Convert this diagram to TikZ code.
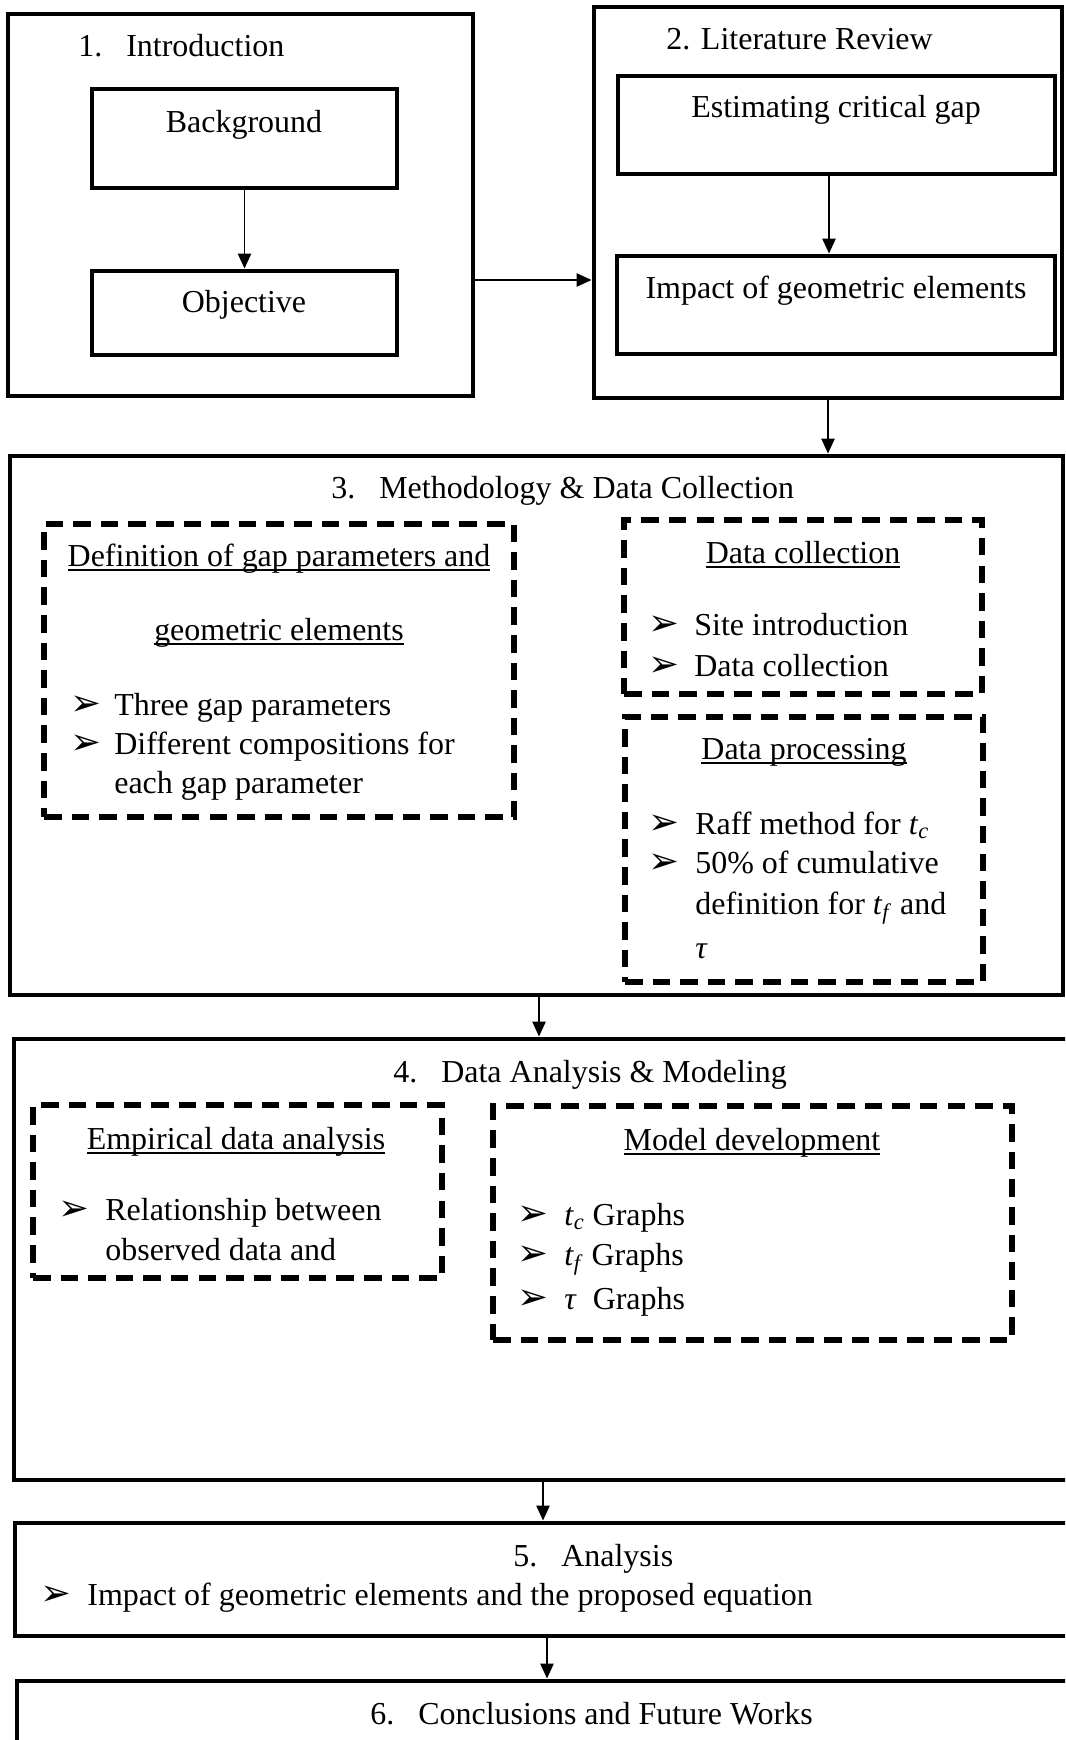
\documentclass[tikz,border=0pt]{standalone}
\usepackage{fontspec}
\setmainfont{Liberation Serif}
\newfontfamily\dingfont{DejaVu Sans}
\usepackage{tikz}
\usetikzlibrary{arrows.meta,fit,positioning}
\newcommand{\tv}[1]{\textit{t}\textsubscript{\textit{#1}}}
\newcommand{\uln}[1]{\sbox0{#1}\rlap{\rule[-2.6pt]{\wd0}{1pt}}\usebox0}
\newcommand{\numgap}{\hspace{0.75em}}
\tikzset{
  bigbox/.style={draw, line width=2.8pt, inner sep=0pt},
  subbox/.style={draw, line width=2.8pt, inner sep=0pt},
  dashbox/.style={draw, line width=3.3pt, dash pattern=on 10pt off 5.7pt, inner sep=0pt},
  txt/.style={inner sep=0pt, font=\fontsize{18.2}{22}\selectfont},
  blt/.style={inner sep=0pt, font=\dingfont\fontsize{21}{22}\selectfont},
  arr/.style={line width=1.1pt, -{Triangle[length=8.5pt,width=7.5pt]}},
}
\begin{document}
\begin{tikzpicture}[x=0.02cm, y=-0.02cm]
\useasboundingbox (0,0) rectangle (1065,1740);
\clip (0,0) rectangle (1065,1740);

% 1. introduction
\node[bigbox, fit={(8,14) (473,396)}] (introBox) {};
\node[txt, anchor=base west] (introT) at (78,57) {1.\numgap Introduction};
\node[subbox, fit={(92,89) (397,188)}] (bgBox) {};
\node[txt, anchor=base] (bgT) at (244,133) {Background};
\node[subbox, fit={(92,271) (397,355)}] (objBox) {};
\node[txt, anchor=base] (objT) at (244,313) {Objective};

% 2. literature review
\node[bigbox, fit={(594,7) (1062,398)}] (litBox) {};
\node[txt, anchor=base west] (litT) at (666,50) {2. Literature Review};
\node[subbox, fit={(618,76) (1055,174)}] (estBox) {};
\node[txt, anchor=base] (estT) at (836,118) {Estimating critical gap};
\node[subbox, fit={(617,256) (1055,354)}] (impBox) {};
\node[txt, anchor=base] (impT) at (836,299) {Impact of geometric elements};

% 3. methodology
\node[bigbox, fit={(10,456) (1063,995)}] (methBox) {};
\node[txt, anchor=base west] (methT) at (331,498) {3.\numgap Methodology \& Data Collection};
\node[dashbox, fit={(44,524) (514,817)}] (defBox) {};
\node[txt, anchor=base] (defT1) at (279,566) {\uln{Definition of gap parameters and}};
\node[txt, anchor=base] (defT2) at (279,640) {\uln{geometric elements}};
\node[blt, anchor=base west] (defB1) at (70,715) {➢};
\node[blt, anchor=base west] (defB2) at (70,754) {➢};
\foreach \y/\t [count=\i] in {715/Three gap parameters, 754/Different compositions for, 793/each gap parameter}
  \node[txt, anchor=base west] (defL\i) at (114,\y) {\t};

\node[dashbox, fit={(624,520) (982,694)}] (colBox) {};
\node[txt, anchor=base] (colT) at (803,563) {\uln{Data collection}};
\node[blt, anchor=base west] (colB1) at (648,635) {➢};
\node[blt, anchor=base west] (colB2) at (648,676) {➢};
\foreach \y/\t [count=\i] in {635/Site introduction, 676/Data collection}
  \node[txt, anchor=base west] (colL\i) at (694,\y) {\t};

\node[dashbox, fit={(625,717) (983,982)}] (procBox) {};
\node[txt, anchor=base] (procT) at (804,759) {\uln{Data processing}};
\node[blt, anchor=base west] (procB1) at (648,834) {➢};
\node[blt, anchor=base west] (procB2) at (648,873) {➢};
\foreach \y/\t [count=\i] in {834/Raff method for \tv{c}, 873/50\% of cumulative, 914/definition for \tv{f} and, 958/\textit{τ}}
  \node[txt, anchor=base west] (procL\i) at (695,\y) {\t};

% 4. analysis and modeling
\node[bigbox, fit={(14,1039) (1090,1480)}] (anaBox) {};
\node[txt, anchor=base west] (anaT) at (393,1082) {4.\numgap Data Analysis \& Modeling};
\node[dashbox, fit={(33,1105) (442,1278)}] (empBox) {};
\node[txt, anchor=base] (empT) at (236,1149) {\uln{Empirical data analysis}};
\node[blt, anchor=base west] (empB1) at (58,1220) {➢};
\foreach \y/\t [count=\i] in {1220/Relationship between, 1260/observed data and}
  \node[txt, anchor=base west] (empL\i) at (105,\y) {\t};

\node[dashbox, fit={(493,1106) (1012,1340)}] (modBox) {};
\node[txt, anchor=base] (modT) at (752,1150) {\uln{Model development}};
\foreach \y/\t [count=\i] in {1225/\tv{c} Graphs, 1265/\tv{f} Graphs, 1309/\textit{τ}~~Graphs}{
  \node[blt, anchor=base west] (modB\i) at (517,\y) {➢};
  \node[txt, anchor=base west] (modL\i) at (564,\y) {\t};
}

% 5. analysis
\node[bigbox, fit={(15,1523) (1090,1636)}] (resBox) {};
\node[txt, anchor=base west] (resT) at (513,1566) {5.\numgap Analysis};
\node[blt, anchor=base west] (resB1) at (40,1605) {➢};
\node[txt, anchor=base west] (resL1) at (87,1605) {Impact of geometric elements and the proposed equation};

% 6. conclusions
\node[bigbox, fit={(17,1681) (1090,1770)}] (concBox) {};
\node[txt, anchor=base west] (concT) at (370,1724) {6.\numgap Conclusions and Future Works};

% connectors
\draw[arr] (bgBox.south) -- (objBox.north);
\draw[arr] (estBox.south -| 829,0) -- (impBox.north -| 829,0);
\draw[arr] (introBox.east |- 0,280) -- (litBox.west |- 0,280);
\draw[arr] (litBox.south) -- (methBox.north -| litBox.south);
\draw[arr] (methBox.south -| 539,0) -- (anaBox.north -| 539,0);
\draw[arr] (anaBox.south -| 543,0) -- (resBox.north -| 543,0);
\draw[arr] (resBox.south -| 547,0) -- (concBox.north -| 547,0);
\end{tikzpicture}
\end{document}
